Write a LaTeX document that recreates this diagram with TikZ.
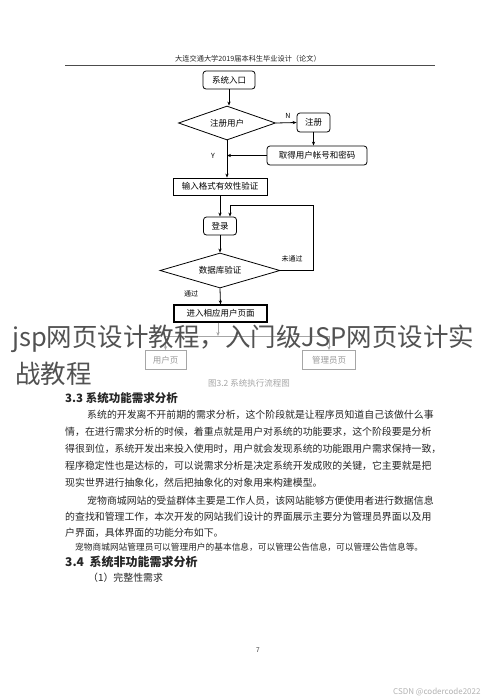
\documentclass[tikz,border=0pt]{standalone}
\usepackage{fontspec}
\setmainfont{Noto Sans CJK SC}
\usetikzlibrary{shapes.geometric,arrows.meta}
\XeTeXlinebreaklocale "zh"
\XeTeXlinebreakskip=0pt plus 1pt
\newcommand\fsz[1]{\fontsize{#1}{#1}\selectfont}
\begin{document}
\begin{tikzpicture}[x=1pt,y=-1pt,
  box/.style={draw, line width=0.8pt, inner sep=0pt, font=\fsz{8.5}},
  rbox/.style={box, rounded corners=3pt},
  dia/.style={diamond, draw, line width=0.8pt, aspect=2.8, inner sep=0pt, font=\fsz{8.5}},
  gbox/.style={draw=black!35, line width=0.8pt, inner sep=0pt, text=black!40, font=\fsz{8.5}},
  arr/.style={line width=0.8pt, -{Stealth[length=4pt,width=3.2pt]}},
  garr/.style={draw=black!35, line width=0.8pt, -{Stealth[length=4pt,width=3.2pt]}},
  gline/.style={draw=black!35, line width=0.8pt},
  lbl/.style={inner sep=0pt, font=\fsz{7}},
  txt/.style={anchor=west, inner sep=0pt, text=black!85, font=\fsz{9.9}},
]
\useasboundingbox (0,0) rectangle (490,697);
\fill[white] (0,0) rectangle (490,697);

% header
\node[inner sep=0pt, font=\fsz{7.2}, text=black!85] (head) at (248,59) {大连交通大学2019届本科生毕业设计（论文）};
\draw[line width=0.6pt, black!70] (65,65) -- (435,65);

% flowchart nodes
\node[rbox, minimum width=52pt, minimum height=18pt] (entry) at (229,80) {系统入口};
\node[dia, minimum width=97pt, minimum height=34pt] (d1) at (227,123) {注册用户};
\node[rbox, minimum width=33pt, minimum height=19pt] (reg) at (313.5,122.5) {注册};
\node[rbox, minimum width=100pt, minimum height=19pt] (get) at (317,155.5) {取得用户帐号和密码};
\node[box, minimum width=94pt, minimum height=17pt] (inp) at (220,186.5) {输入格式有效性验证};
\node[rbox, minimum width=33pt, minimum height=18pt] (login) at (220,226) {登录};
\node[dia, minimum width=120pt, minimum height=35pt] (d2) at (220,270.5) {数据库验证};
\node[box, line width=1.1pt, minimum width=93pt, minimum height=17pt] (enter) at (220.5,313.5) {进入相应用户页面};
\node[gbox, minimum width=41pt, minimum height=19pt] (user) at (165.5,360) {用户页};
\node[gbox, minimum width=53pt, minimum height=19pt] (admin) at (329,360) {管理员页};
\coordinate (loop) at (313,205);
\coordinate (bar) at (218,336);

% labels
\node[lbl] (nlab) at (288,116) {N};
\node[lbl] (ylab) at (213,156) {Y};
\node[lbl] (nolab) at (292,259) {未通过};
\node[lbl] (oklab) at (191,294) {通过};

% connectors
\draw[arr] (entry.south) -- (entry.south |- d1.north);
\draw[arr] (d1.east) -- (reg.west);
\draw[arr] (reg.south) -- (reg.south |- get.north);
\draw[arr] (get.west) -- (get.west -| d1.south);
\draw[arr] (d1.south) -- (d1.south |- inp.north);
\draw[arr] (inp.south) -- (login.north);
\draw[arr] (login.south) -- (d2.north);
\draw[arr] (d2.east) -| (loop) -| ([xshift=10pt]login.north);
\draw[arr] (d2.south) -- (enter.north);
\draw[garr] (enter.south -| bar) -- (bar);
\draw[gline] (user.north |- bar) -- (admin.north |- bar);
\draw[garr] (user.north |- bar) -- (user.north);
\draw[garr] (admin.north |- bar) -- (admin.north);

% caption
\node[inner sep=0pt, font=\fsz{8.5}, text=black!35] (cap) at (249,383) {图3.2 系统执行流程图};

% overlay title
\node[anchor=west, inner sep=0pt, font=\fsz{25.5}, text=black!68] (ov1) at (12,339) {jsp网页设计教程，入门级JSP网页设计实};
\node[anchor=west, inner sep=0pt, font=\fsz{25.5}, text=black!68] (ov2) at (15,374) {战教程};

% section 3.3
\node[txt, font=\fsz{11.5}\bfseries] (h33) at (65,398) {3.3 系统功能需求分析};
\node[txt] (p1) at (87,415) {\makebox[348pt][s]{系统的开发离不开前期的需求分析，这个阶段就是让程序员知道自己该做什么事}};
\node[txt] (p2) at (65,432) {\makebox[370pt][s]{情，在进行需求分析的时候，着重点就是用户对系统的功能要求，这个阶段要是分析}};
\node[txt] (p3) at (65,449) {\makebox[370pt][s]{得很到位，系统开发出来投入使用时，用户就会发现系统的功能跟用户需求保持一致，}};
\node[txt] (p4) at (65,466) {\makebox[370pt][s]{程序稳定性也是达标的，可以说需求分析是决定系统开发成败的关键，它主要就是把}};
\node[txt] (p5) at (65,483) {现实世界进行抽象化，然后把抽象化的对象用来构建模型。};
\node[txt] (q1) at (87,501) {\makebox[348pt][s]{宠物商城网站的受益群体主要是工作人员，该网站能够方便使用者进行数据信息}};
\node[txt] (q2) at (65,517) {\makebox[370pt][s]{的查找和管理工作，本次开发的网站我们设计的界面展示主要分为管理员界面以及用}};
\node[txt] (q3) at (65,533) {户界面，具体界面的功能分布如下。};
\node[txt, font=\fsz{8.7}] (q4) at (75,547) {\makebox[348pt][s]{宠物商城网站管理员可以管理用户的基本信息，可以管理公告信息，可以管理公告信息等。}};
\node[txt, font=\fsz{12}\bfseries] (h34) at (65,562) {3.4\ \ 系统非功能需求分析};
\node[txt] (r1) at (88,578) {（1）完整性需求};

% footer
\node[inner sep=0pt, font=\fsz{6.5}, text=black!80] (pg) at (258,650) {7};
\node[anchor=west, inner sep=0pt, font=\fsz{8}, text=black!30] (wm) at (393,692) {CSDN @codercode2022};
\end{tikzpicture}
\end{document}
